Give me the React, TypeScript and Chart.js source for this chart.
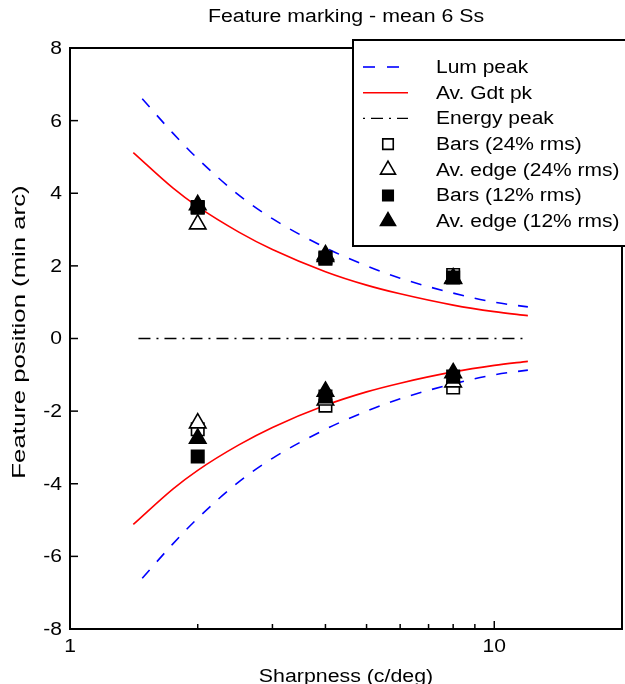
import React, { useEffect, useRef } from 'react';
import { Chart, registerables } from 'chart.js';

Chart.register(...registerables);

const TITLE = 'Feature marking - mean 6 Ss';
const X_TITLE = 'Sharpness (c/deg)';
const Y_TITLE = 'Feature position (min arc)';

const lumX = [1.48, 1.75, 2, 2.5, 3, 4, 5, 6, 8, 10, 12];
const lumUpper = [6.6, 5.65, 4.95, 3.95, 3.3, 2.5, 2.0, 1.66, 1.25, 1.0, 0.87];
const lumLower = [-6.6, -5.65, -4.95, -3.95, -3.3, -2.5, -2.0, -1.66, -1.25, -1.0, -0.87];

const gdtX = [1.41, 1.75, 2, 2.5, 3, 4, 5, 6, 8, 10, 12];
const gdtUpper = [5.12, 4.14, 3.63, 2.93, 2.45, 1.84, 1.47, 1.23, 0.92, 0.74, 0.63];
const gdtLower = [-5.12, -4.14, -3.63, -2.93, -2.45, -1.84, -1.47, -1.23, -0.92, -0.74, -0.63];

const energyX = [1.45, 12];
const energyY = [0, 0];

const sharpX = [2, 4, 8];
const bars24Upper = [3.6, 2.2, 1.75];
const bars24Lower = [-2.5, -1.85, -1.35];
const edge24Upper = [3.15, 2.25, 1.65];
const edge24Lower = [-2.33, -1.7, -1.2];
const bars12Upper = [3.62, 2.23, 1.68];
const bars12Lower = [-3.25, -1.6, -1.05];
const edge12Upper = [3.68, 2.3, 1.66];
const edge12Lower = [-2.75, -1.46, -0.95];

const LEGEND_LABELS = [
  'Lum peak',
  'Av. Gdt pk',
  'Energy peak',
  'Bars (24% rms)',
  'Av. edge (24% rms)',
  'Bars (12% rms)',
  'Av. edge (12% rms)',
];

const Y_TICKS = [-8, -6, -4, -2, 0, 2, 4, 6, 8];
const X_TICK_LABELS = [1, 10];
const X_MINOR = [2, 3, 4, 5, 6, 7, 8, 9, 10];

const FONT = '"Liberation Sans", Arial, Helvetica, sans-serif';
const SX = 1.17;

const pts = (xs: number[], ys: number[]) => xs.map((x, i) => ({ x, y: ys[i] }));

function text(ctx: CanvasRenderingContext2D, s: string, x: number, y: number, align: CanvasTextAlign, sx: number, rot = 0) {
  ctx.save();
  ctx.translate(x, y);
  if (rot) ctx.rotate(rot);
  ctx.scale(sx, 1);
  ctx.textAlign = align;
  ctx.fillText(s, 0, 0);
  ctx.restore();
}

function drawMarker(ctx: CanvasRenderingContext2D, kind: string, filled: boolean, x: number, y: number, size: number) {
  ctx.save();
  ctx.beginPath();
  if (kind === 'rect') {
    ctx.rect(x - size / 2, y - size / 2, size, size);
  } else {
    const r = size / Math.sqrt(3);
    ctx.moveTo(x, y - r);
    ctx.lineTo(x + size / 2, y + r / 2);
    ctx.lineTo(x - size / 2, y + r / 2);
    ctx.closePath();
  }
  ctx.fillStyle = filled ? '#000' : '#fff';
  ctx.fill();
  ctx.lineWidth = 1.6;
  ctx.strokeStyle = '#000';
  ctx.stroke();
  ctx.restore();
}

const decorPlugin = {
  id: 'decor',
  afterDraw(chart: any) {
    const ctx: CanvasRenderingContext2D = chart.ctx;
    const { left, right, top, bottom } = chart.chartArea;
    const xs = chart.scales.x;
    const ys = chart.scales.y;
    ctx.save();
    ctx.strokeStyle = '#000';
    ctx.lineWidth = 2;
    ctx.setLineDash([]);
    ctx.strokeRect(left, top, right - left, bottom - top);
    ctx.lineWidth = 1.5;
    Y_TICKS.forEach((v) => {
      const y = ys.getPixelForValue(v);
      ctx.beginPath();
      ctx.moveTo(left, y);
      ctx.lineTo(left + 8, y);
      ctx.stroke();
    });
    X_MINOR.forEach((v) => {
      const x = xs.getPixelForValue(v);
      const len = v === 10 ? 8 : 5;
      ctx.beginPath();
      ctx.moveTo(x, bottom);
      ctx.lineTo(x, bottom - len);
      ctx.stroke();
    });

    ctx.fillStyle = '#000';
    ctx.font = `18px ${FONT}`;
    ctx.textBaseline = 'middle';
    Y_TICKS.forEach((v) => {
      text(ctx, String(v), left - 8, ys.getPixelForValue(v) + 1, 'right', SX);
    });
    X_TICK_LABELS.forEach((v) => {
      text(ctx, String(v), xs.getPixelForValue(v), bottom + 18, 'center', SX);
    });
    text(ctx, TITLE, (left + right) / 2, 17, 'center', 1.185);
    ctx.textBaseline = 'alphabetic';
    text(ctx, X_TITLE, (left + right) / 2, 682, 'center', 1.185);
    ctx.textBaseline = 'middle';
    text(ctx, Y_TITLE, 20, 332, 'center', 1.43, -Math.PI / 2);

    const bx = 353, by = 40, bw = 273, bh = 206;
    ctx.fillStyle = '#fff';
    ctx.fillRect(bx, by, bw, bh);
    ctx.lineWidth = 2;
    ctx.strokeStyle = '#000';
    ctx.strokeRect(bx, by, bw, bh);
    const rowY0 = 67, rowDy = 25.7;
    const lx0 = 363, lx1 = 408, mx = 388, tx = 436;
    LEGEND_LABELS.forEach((label, i) => {
      const y = rowY0 + i * rowDy;
      if (i < 3) {
        ctx.beginPath();
        ctx.moveTo(lx0, y);
        ctx.lineTo(lx1, y);
        if (i === 0) {
          ctx.strokeStyle = '#0000ff';
          ctx.lineWidth = 1.6;
          ctx.setLineDash([12, 12]);
        } else if (i === 1) {
          ctx.strokeStyle = '#ff0000';
          ctx.lineWidth = 1.6;
          ctx.setLineDash([]);
        } else {
          ctx.strokeStyle = '#000';
          ctx.lineWidth = 1.3;
          ctx.setLineDash([2, 6, 12, 6]);
        }
        ctx.stroke();
        ctx.setLineDash([]);
      } else {
        const kind = i === 3 || i === 5 ? 'rect' : 'tri';
        const filled = i >= 5;
        drawMarker(ctx, kind, filled, mx, y, kind === 'rect' ? 10.5 : 15);
      }
      ctx.fillStyle = '#000';
      ctx.font = `18px ${FONT}`;
      ctx.textBaseline = 'middle';
      text(ctx, label, tx, y + 1, 'left', 1.166);
    });
    ctx.restore();
  },
};

export default function App() {
  const ref = useRef<HTMLCanvasElement | null>(null);
  useEffect(() => {
    if (!ref.current) return;
    const lineBase = {
      showLine: true,
      pointRadius: 0,
      pointHoverRadius: 0,
      fill: false,
      cubicInterpolationMode: 'monotone' as const,
    };
    const markerBase = (style: string, filled: boolean, radius: number, order: number) => ({
      showLine: false,
      pointStyle: style,
      pointRadius: radius,
      pointHoverRadius: radius,
      pointBackgroundColor: filled ? '#000' : '#fff',
      pointBorderColor: '#000',
      pointBorderWidth: 1.6,
      order,
    });
    const chart = new Chart(ref.current, {
      type: 'scatter',
      data: {
        datasets: [
          { label: LEGEND_LABELS[6], data: pts(sharpX, edge12Upper), ...markerBase('triangle', true, 9.5, 0) },
          { label: LEGEND_LABELS[6], data: pts(sharpX, edge12Lower), ...markerBase('triangle', true, 9.5, 0) },
          { label: LEGEND_LABELS[5], data: pts(sharpX, bars12Upper), ...markerBase('rect', true, 8.8, 1) },
          { label: LEGEND_LABELS[5], data: pts(sharpX, bars12Lower), ...markerBase('rect', true, 8.8, 1) },
          { label: LEGEND_LABELS[4], data: pts(sharpX, edge24Upper), ...markerBase('triangle', false, 9.5, 2) },
          { label: LEGEND_LABELS[4], data: pts(sharpX, edge24Lower), ...markerBase('triangle', false, 9.5, 2) },
          { label: LEGEND_LABELS[3], data: pts(sharpX, bars24Upper), ...markerBase('rect', false, 8.8, 3) },
          { label: LEGEND_LABELS[3], data: pts(sharpX, bars24Lower), ...markerBase('rect', false, 8.8, 3) },
          { label: LEGEND_LABELS[0], data: pts(lumX, lumUpper), ...lineBase, borderColor: '#0000ff', borderWidth: 1.6, borderDash: [11, 11], order: 4 },
          { label: LEGEND_LABELS[0], data: pts(lumX, lumLower), ...lineBase, borderColor: '#0000ff', borderWidth: 1.6, borderDash: [11, 11], order: 4 },
          { label: LEGEND_LABELS[1], data: pts(gdtX, gdtUpper), ...lineBase, borderColor: '#ff0000', borderWidth: 1.6, order: 5 },
          { label: LEGEND_LABELS[1], data: pts(gdtX, gdtLower), ...lineBase, borderColor: '#ff0000', borderWidth: 1.6, order: 5 },
          { label: LEGEND_LABELS[2], data: pts(energyX, energyY), ...lineBase, borderColor: '#000', borderWidth: 1.3, borderDash: [12, 6, 2, 6], order: 6 },
        ] as any,
      },
      options: {
        responsive: false,
        animation: false,
        devicePixelRatio: 1,
        layout: { autoPadding: false, padding: { top: 48, right: 3, left: 0, bottom: 0 } },
        plugins: {
          legend: { display: false },
          title: { display: false },
          tooltip: { enabled: false },
        },
        scales: {
          x: {
            type: 'logarithmic',
            min: 1,
            max: 20,
            grid: { display: false, drawTicks: false },
            border: { display: false },
            afterFit: (s: any) => { s.height = 55; s.paddingLeft = 0; s.paddingRight = 0; },
            ticks: { display: false, autoSkip: false },
          },
          y: {
            type: 'linear',
            min: -8,
            max: 8,
            grid: { display: false, drawTicks: false },
            border: { display: false },
            afterFit: (s: any) => { s.width = 70; s.paddingTop = 0; s.paddingBottom = 0; },
            ticks: { display: false, stepSize: 2 },
          },
        },
      } as any,
      plugins: [decorPlugin],
    });
    return () => chart.destroy();
  }, []);
  return (
    <div style={{ position: 'absolute', left: 0, top: 0, width: 625, height: 684, background: '#fff' }}>
      <canvas ref={ref} width={625} height={684} style={{ display: 'block' }} />
    </div>
  );
}
